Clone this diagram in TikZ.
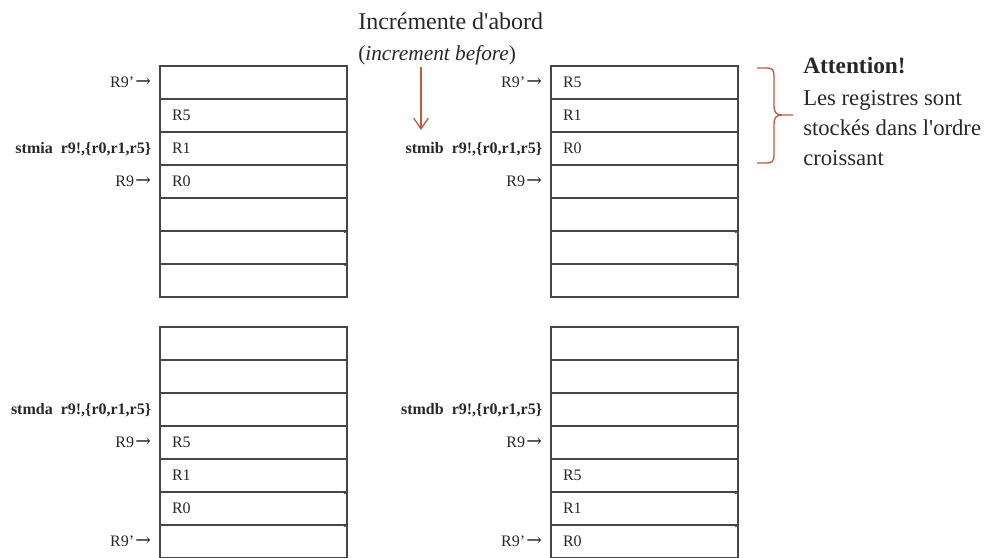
\documentclass[tikz,border=0pt]{standalone}
\usepackage{fontspec}
\setmainfont{Liberation Serif}[Ligatures=TeXOff]
\newfontfamily\arrowfont{DejaVu Serif}
\usetikzlibrary{arrows.meta,positioning}

\definecolor{gridline}{RGB}{70,70,70}
\definecolor{accent}{RGB}{196,88,60}
\definecolor{txt}{RGB}{40,40,40}

\newcommand{\ptr}{\hspace{1pt}{\arrowfont\fontsize{14}{14}\selectfont →}}

\tikzset{
  cell/.style={draw=gridline, line width=0.9pt, minimum width=140.25pt,
    minimum height=24.75pt, inner xsep=9pt, inner ysep=0pt,
    text width=122.25pt, align=left, text height=8pt, text depth=0pt,
    font=\fontsize{12}{14}\selectfont, text=txt},
  lab/.style={anchor=east, inner sep=0pt, text height=8pt, text depth=0pt,
    font=\fontsize{12}{14}\selectfont, text=txt},
  instr/.style={lab, font=\fontsize{12}{14}\selectfont\bfseries},
  tinytip/.style={draw=gridline, line width=0.9pt,
    -{Stealth[length=3pt,width=2.6pt]}},
  note/.style={anchor=base west, inner sep=0pt, text=txt,
    font=\fontsize{17}{21}\selectfont},
}

\begin{document}
\begin{tikzpicture}[x=0.75pt, y=-0.75pt]
\useasboundingbox (0,0) rectangle (992,557);

% ---- four memory stacks, seven words each ----
\foreach \r/\txt in {1/,2/R5,3/R1,4/R0,5/,6/,7/}
  \node[cell] (tl\r) at ({160+93.5},{66+33*\r-16.5}) {\txt};
\foreach \r/\txt in {1/R5,2/R1,3/R0,4/,5/,6/,7/}
  \node[cell] (tr\r) at ({551+93.5},{66+33*\r-16.5}) {\txt};
\foreach \r/\txt in {1/,2/,3/,4/R5,5/R1,6/R0,7/}
  \node[cell] (bl\r) at ({160+93.5},{327+33*\r-16.5}) {\txt};
\foreach \r/\txt in {1/,2/,3/,4/,5/R5,6/R1,7/R0}
  \node[cell] (br\r) at ({551+93.5},{327+33*\r-16.5}) {\txt};

% small tips at the ends of the lower separators
\foreach \t in {tl,tr,bl,br}
  \foreach \r in {5,6}
    \draw[tinytip] (\t\r.south west) -- (\t\r.south east);

% ---- pointer and instruction labels ----
\node[lab]   (tlp)  at ([xshift=-6pt]tl1.west) {R9’\ptr};
\node[instr] (tli)  at ([xshift=-6pt]tl3.west) {stmia~~r9!,\{r0,r1,r5\}};
\node[lab]   (tlb)  at ([xshift=-6pt]tl4.west) {R9\ptr};

\node[lab]   (trp)  at ([xshift=-6pt]tr1.west) {R9’\ptr};
\node[instr] (tri)  at ([xshift=-6pt]tr3.west) {stmib~~r9!,\{r0,r1,r5\}};
\node[lab]   (trb)  at ([xshift=-6pt]tr4.west) {R9\ptr};

\node[instr] (bli)  at ([xshift=-6pt]bl3.west) {stmda~~r9!,\{r0,r1,r5\}};
\node[lab]   (blb)  at ([xshift=-6pt]bl4.west) {R9\ptr};
\node[lab]   (blp)  at ([xshift=-6pt]bl7.west) {R9’\ptr};

\node[instr] (bri)  at ([xshift=-6pt]br3.west) {stmdb~~r9!,\{r0,r1,r5\}};
\node[lab]   (brb)  at ([xshift=-6pt]br4.west) {R9\ptr};
\node[lab]   (brp)  at ([xshift=-6pt]br7.west) {R9’\ptr};

% ---- "increment before" heading and its arrow ----
\node[note, font=\fontsize{18}{22}\selectfont] (hd1) at (358,29) {Incrémente d'abord};
\node[note, font=\fontsize{16}{20}\selectfont] (hd2) at (358,60)
  {(\textit{increment before})};
\coordinate (arrtop) at (421,67);
\coordinate (arrend) at (421,130);
\draw[accent, line width=1pt, -{Straight Barb[length=8pt,width=11pt]}]
  (arrtop) -- (arrend);

% ---- brace and remark ----
\draw[accent, line width=1pt]
  (757,68) -- (767,68) .. controls (772,68) and (774,70) .. (774,76)
  -- (774,106) .. controls (774,112) and (776,115) .. (782,115) -- (793,115);
\draw[accent, line width=1pt]
  (757,163) -- (767,163) .. controls (772,163) and (774,161) .. (774,155)
  -- (774,124) .. controls (774,118) and (776,115) .. (782,115);

\node[note, font=\fontsize{17.5}{21}\selectfont\bfseries] (att) at (803,73) {Attention!};
\node[note] (rm1) at (803,105) {Les registres sont};
\node[note] (rm2) at (803,135) {stockés dans l'ordre};
\node[note] (rm3) at (803,165) {croissant};
\end{tikzpicture}
\end{document}
